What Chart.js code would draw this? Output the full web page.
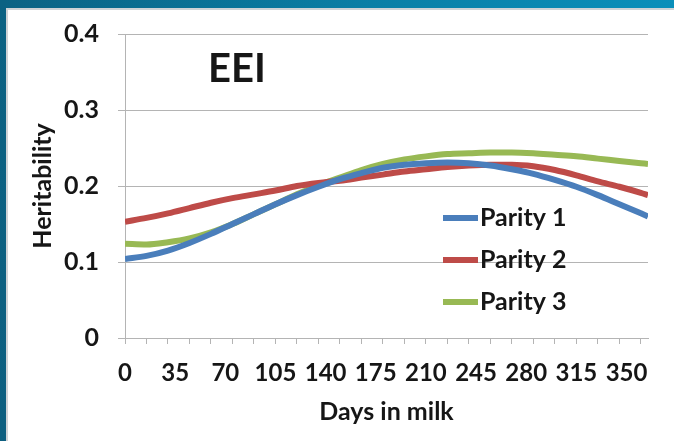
<!DOCTYPE html>
<html>
<head>
<meta charset="utf-8">
<script src="https://cdn.jsdelivr.net/npm/chart.js@4.4.1/dist/chart.umd.min.js"></script>
<style>
  html, body { margin: 0; padding: 0; background: #ffffff; }
  #wrap { position: relative; width: 674px; height: 441px; overflow: hidden; background: #ffffff; }
  #chart { position: absolute; left: 0; top: 0; }
  .band-top { position: absolute; left: 0; top: 0; width: 674px; height: 8px;
    background: linear-gradient(to right, #0b6283, #0a7fa6 55%, #0a8fba); }
  .band-top-edge { position: absolute; left: 0; top: 8px; width: 674px; height: 2px; background: #cfd3d6; }
  .band-left { position: absolute; left: 0; top: 0; width: 6px; height: 441px;
    background: linear-gradient(to bottom, #0b6283, #0d5f80); }
  .band-left-edge { position: absolute; left: 6px; top: 8px; width: 2px; height: 433px; background: #cfd3d6; }
</style>
</head>
<body>
<div id="wrap">
  <canvas id="chart" width="674" height="441"></canvas>
  <div class="band-top-edge"></div>
  <div class="band-left-edge"></div>
  <div class="band-top"></div>
  <div class="band-left"></div>
</div>
<script>
// Days in milk at which each curve is sampled
const days = [0, 15, 30, 45, 60, 75, 90, 105, 120, 135, 150, 165, 180, 195, 210,
              225, 240, 255, 270, 285, 300, 315, 330, 345, 360, 365];

// Heritability estimates per parity
const parity1 = [0.104, 0.108, 0.115, 0.125, 0.137, 0.150, 0.163, 0.176, 0.188, 0.199,
                 0.209, 0.217, 0.224, 0.228, 0.230, 0.231, 0.230, 0.227, 0.222, 0.216,
                 0.208, 0.199, 0.188, 0.176, 0.164, 0.160];
const parity2 = [0.153, 0.158, 0.164, 0.171, 0.178, 0.184, 0.189, 0.194, 0.200, 0.204,
                 0.207, 0.211, 0.215, 0.219, 0.222, 0.225, 0.227, 0.228, 0.228, 0.226,
                 0.221, 0.214, 0.206, 0.199, 0.191, 0.188];
const parity3 = [0.124, 0.123, 0.126, 0.131, 0.139, 0.150, 0.163, 0.176, 0.189, 0.201,
                 0.211, 0.221, 0.229, 0.235, 0.239, 0.242, 0.243, 0.244, 0.244, 0.243,
                 0.241, 0.239, 0.236, 0.233, 0.230, 0.229];

const seriesNames = ['Parity 1', 'Parity 2', 'Parity 3'];
const seriesColors = ['#4a7ebb', '#be4b48', '#98b954'];
const chartTitle = 'EEI';
const xTitle = 'Days in milk';
const yTitle = 'Heritability';

// x axis: labels every 35 days, tick marks every 15 days
const xMax = 365;
const labelStep = 35;
const markStep = 15;

const FONT = 'Lato, "Open Sans", sans-serif';
const TEXT = '#161616';
const GRID = '#b4b4b4';

const toPoints = vals => days.map((d, i) => ({ x: d, y: vals[i] }));

const datasets = [parity1, parity2, parity3].map((vals, i) => ({
  label: seriesNames[i],
  data: toPoints(vals),
  borderColor: seriesColors[i],
  backgroundColor: seriesColors[i],
  borderWidth: 6,
  pointRadius: 0,
  cubicInterpolationMode: 'monotone',
  fill: false
}));

// Chart heading and the legend block drawn inside the plot area
const insideText = {
  id: 'insideText',
  afterDatasetsDraw(chart) {
    const { ctx, chartArea } = chart;
    ctx.save();
    ctx.fillStyle = TEXT;
    ctx.font = 'bold 40px ' + FONT;
    ctx.textAlign = 'center';
    ctx.textBaseline = 'middle';
    ctx.fillText(chartTitle, chartArea.left + 112, chartArea.top + 35);

    const lx0 = chartArea.left + 318;
    const lx1 = chartArea.left + 353;
    const ly0 = chartArea.top + 184;
    const gap = 42;
    chart.data.datasets.forEach((ds, i) => {
      const y = ly0 + i * gap;
      ctx.strokeStyle = ds.borderColor;
      ctx.lineWidth = 6;
      ctx.lineCap = 'butt';
      ctx.beginPath();
      ctx.moveTo(lx0, y);
      ctx.lineTo(lx1, y);
      ctx.stroke();
      ctx.fillStyle = TEXT;
      ctx.font = 'bold 25px ' + FONT;
      ctx.textAlign = 'left';
      ctx.textBaseline = 'middle';
      ctx.fillText(ds.label, lx1 + 2, y);
    });
    ctx.restore();
  }
};

new Chart(document.getElementById('chart'), {
  type: 'line',
  data: { datasets },
  options: {
    responsive: false,
    animation: false,
    devicePixelRatio: 1,
    layout: { padding: { top: 33, right: 26, bottom: 0, left: 0 } },
    plugins: {
      legend: { display: false },
      tooltip: { enabled: false },
      title: { display: false }
    },
    scales: {
      x: {
        type: 'linear',
        min: 0,
        max: xMax,
        afterBuildTicks(scale) {
          const vals = [];
          for (let v = 0; v <= xMax; v += 5) {
            if (v % markStep === 0 || v % labelStep === 0) vals.push({ value: v });
          }
          scale.ticks = vals;
        },
        afterFit(scale) { scale.height = 103; },
        ticks: {
          autoSkip: false,
          maxRotation: 0,
          padding: 15,
          color: TEXT,
          font: { family: FONT, size: 24, weight: 'bold' },
          callback: v => (v % labelStep === 0 ? String(v) : '')
        },
        grid: {
          drawOnChartArea: false,
          drawTicks: true,
          tickLength: 6,
          tickColor: ctx => (ctx.tick && ctx.tick.value % markStep === 0 ? GRID : 'rgba(0,0,0,0)')
        },
        border: { display: true, color: GRID, width: 1 },
        title: {
          display: true,
          text: xTitle,
          color: TEXT,
          font: { family: FONT, size: 25, weight: 'bold' },
          padding: { top: 0, bottom: 14 }
        }
      },
      y: {
        min: 0,
        max: 0.4,
        afterFit(scale) { scale.width = 125; },
        ticks: {
          stepSize: 0.1,
          padding: 19,
          color: TEXT,
          font: { family: FONT, size: 25, weight: 'bold' }
        },
        grid: { color: GRID, lineWidth: 1, tickLength: 7 },
        border: { display: true, color: GRID, width: 1 },
        title: {
          display: true,
          text: yTitle,
          color: TEXT,
          font: { family: FONT, size: 25, weight: 'bold' },
          padding: { top: 28, bottom: 0 }
        }
      }
    }
  },
  plugins: [insideText]
});
</script>
</body>
</html>
